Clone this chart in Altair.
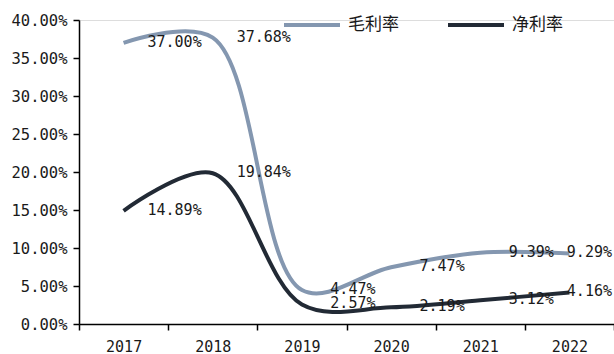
import altair as alt
import pandas as pd

years = [2017, 2018, 2019, 2020, 2021, 2022]
gross = [37.00, 37.68, 4.47, 7.47, 9.39, 9.29]
net = [14.89, 19.84, 2.57, 2.19, 3.12, 4.16]
series_names = ["毛利率", "净利率"]
colors = ["#8497B0", "#222A35"]
y_ticks = [0, 5, 10, 15, 20, 25, 30, 35, 40]
x_ticks = [2016.5, 2017.5, 2018.5, 2019.5, 2020.5, 2021.5, 2022.5]

rows = []
for y, g, n in zip(years, gross, net):
    rows.append({"year": y, "series": series_names[0], "value": g, "label": f"{g:.2f}%"})
    rows.append({"year": y, "series": series_names[1], "value": n, "label": f"{n:.2f}%"})
df = pd.DataFrame(rows)

x_enc = alt.X(
    "year:Q",
    scale=alt.Scale(domain=[2016.5, 2022.5], nice=False, zero=False),
    axis=alt.Axis(
        values=x_ticks,
        labelExpr="datum.value < 2022 ? format(datum.value + 0.5, 'd') : ''",
        labelOffset=44.6,
        title=None,
        grid=False,
        tickSize=6,
        tickColor="#000000",
        tickWidth=1.5,
        domainColor="#000000",
        domainWidth=1.5,
        labelFont="DejaVu Sans Mono",
        labelFontSize=15,
        labelColor="#1a1a1a",
        labelPadding=9,
        labelFlush=False,
        labelOverlap=False,
    ),
)
y_enc = alt.Y(
    "value:Q",
    scale=alt.Scale(domain=[0, 40], nice=False),
    axis=alt.Axis(
        values=y_ticks,
        labelExpr="format(datum.value / 100, '.2%')",
        title=None,
        grid=False,
        tickSize=6,
        tickColor="#000000",
        tickWidth=1.5,
        domainColor="#000000",
        domainWidth=1.5,
        labelFont="DejaVu Sans Mono",
        labelFontSize=15.5,
        labelColor="#1a1a1a",
        labelPadding=6,
        labelOverlap=False,
        labelFlush=False,
        labelBound=False,
    ),
)
color_enc = alt.Color(
    "series:N",
    scale=alt.Scale(domain=series_names, range=colors),
    sort=series_names,
    legend=alt.Legend(
        title=None,
        orient="none",
        legendX=203,
        legendY=-25,
        direction="horizontal",
        symbolType="stroke",
        symbolSize=3136,
        symbolStrokeWidth=4,
        labelFont="Noto Sans CJK SC",
        labelFontSize=17,
        labelColor="#1a1a1a",
        labelOffset=6,
        columnPadding=41,
        padding=0,
    ),
)

base = alt.Chart(df)
lines = base.mark_line(strokeWidth=4, interpolate="catmull-rom").encode(
    x=x_enc, y=y_enc, color=color_enc, order="year:Q"
)
text_main = base.transform_filter("datum.year < 2022").mark_text(
    dx=51, dy=-1, baseline="middle", align="center",
    font="DejaVu Sans Mono", fontSize=15, color="#1a1a1a"
).encode(x=x_enc, y=y_enc, text="label:N")
text_last = base.transform_filter("datum.year == 2022").mark_text(
    dx=20, dy=-1, baseline="middle", align="center",
    font="DejaVu Sans Mono", fontSize=15, color="#1a1a1a"
).encode(x=x_enc, y=y_enc, text="label:N")

chart = alt.layer(lines, text_main, text_last).properties(
    width=535,
    height=304,
    autosize=alt.AutoSizeParams(type="none"),
    padding={"left": 79, "top": 20, "right": 0, "bottom": 30},
).configure_view(stroke=None).configure(background="#ffffff")

chart.save("out.html", embed_options={"renderer": "svg", "actions": False})
